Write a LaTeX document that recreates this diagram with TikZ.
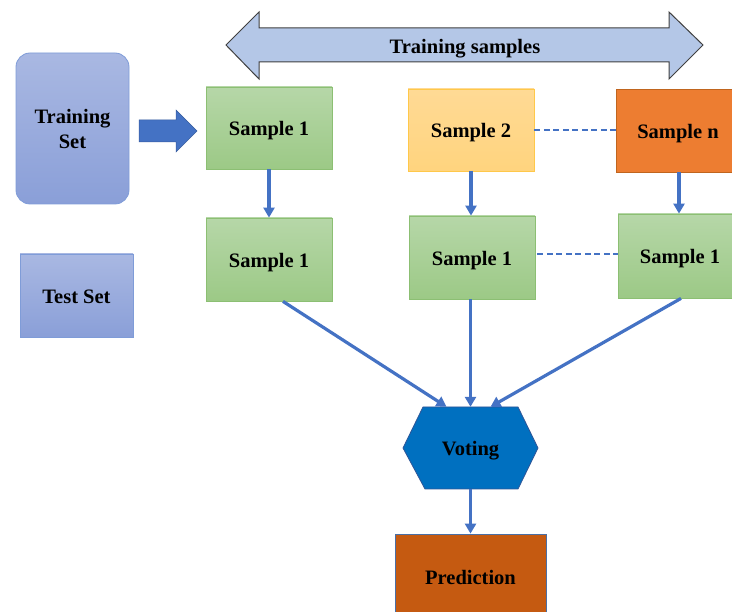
\documentclass[tikz,border=0pt]{standalone}
\usepackage{fontspec}
\setmainfont{Liberation Serif}
\usetikzlibrary{arrows.meta,calc}
\definecolor{bandfill}{HTML}{B4C7E7}
\definecolor{bandline}{HTML}{404040}
\definecolor{bluetop}{HTML}{A9B8E2}
\definecolor{bluebot}{HTML}{8A9FD8}
\definecolor{blueline}{HTML}{7F9CD8}
\definecolor{greentop}{HTML}{B6D7A8}
\definecolor{greenbot}{HTML}{9CC986}
\definecolor{greenline}{HTML}{8CBF73}
\definecolor{yeltop}{HTML}{FFDA95}
\definecolor{yelbot}{HTML}{FFD47E}
\definecolor{yelline}{HTML}{FFC84A}
\definecolor{orfill}{HTML}{ED7D31}
\definecolor{orline}{HTML}{C0651E}
\definecolor{votefill}{HTML}{0070C0}
\definecolor{voteline}{HTML}{2F5597}
\definecolor{predfill}{HTML}{C55A11}
\definecolor{predline}{HTML}{4A6FA5}
\definecolor{conncol}{HTML}{4472C4}
\begin{document}
\begin{tikzpicture}[x=1pt,y=-1pt,
  lblbase/.style={font=\bfseries\fontsize{20.5}{25}\selectfont, text=black, align=center},
  lbl/.style={lblbase, text height=16pt, text depth=0pt},
  sbox/.style={lbl, rectangle, inner sep=0pt, minimum width=126pt, minimum height=82pt, line width=0.8pt},
  greenbox/.style={sbox, draw=greenline, top color=greentop, bottom color=greenbot},
  bluebox/.style={rectangle, inner sep=0pt, draw=blueline, line width=0.8pt, top color=bluetop, bottom color=bluebot},
  conn/.style={draw=conncol, line width=3.2pt, -{Triangle[length=10pt,width=11pt]}},
  dashconn/.style={draw=conncol, line width=2pt, dash pattern=on 6pt off 3.5pt}
]
\useasboundingbox (0,0) rectangle (732,612);

% double arrow band
\path[fill=bandfill, draw=bandline, line width=1pt]
  (226,45) -- (259,12) -- (259,28) -- (669,28) -- (669,12) -- (703,45)
  -- (669,79) -- (669,62) -- (259,62) -- (259,79) -- cycle;
\node[lbl] (band) at (465,46) {Training samples};

% left column
\node[bluebox, lblbase, rounded corners=14pt, minimum width=113pt, minimum height=151pt] (train) at (72.5,128.5) {Training\\Set};
\node[bluebox, lbl, minimum width=113pt, minimum height=83pt] (test) at (76.5,295.5) {Test Set};

% block arrow
\path[fill=conncol, draw=conncol!80!black, line width=0.5pt]
  (139,120) -- (176,120) -- (176,110) -- (197,131) -- (176,152) -- (176,142) -- (139,142) -- cycle;

% first row
\node[greenbox] (s1a) at (269,128) {Sample 1};
\node[sbox, draw=yelline, top color=yeltop, bottom color=yelbot] (s2) at (471,130) {Sample 2};
\node[sbox, draw=orline, fill=orfill, minimum width=124pt, minimum height=83pt] (sn) at (678,130.5) {Sample n};

% second row
\node[greenbox, minimum height=83pt] (s1b) at (269,259.5) {Sample 1};
\node[greenbox, minimum height=83pt] (s1c) at (472,257.5) {Sample 1};
\node[greenbox, minimum width=124pt, minimum height=84pt] (s1d) at (680,256) {Sample 1};

% voting hexagon
\node[minimum width=95pt, minimum height=82pt, inner sep=0pt] (vote) at (470.5,448) {};
\path[fill=votefill, draw=voteline, line width=0.8pt]
  (423,407) -- (518,407) -- (538,448) -- (518,489) -- (425,489) -- (403,448) -- cycle;
\node[lbl] at (vote.center) {Voting};

% prediction
\node[sbox, draw=predline, fill=predfill, minimum width=151pt, minimum height=86pt] (pred) at (470.5,577) {Prediction};

% connectors
\draw[dashconn] (s2.east) -- (sn.west |- s2.east);
\draw[dashconn] ($(s1c.east)+(2,-3)$) -- ($(s1d.west |- s1c.east)+(0,-3)$);
\draw[conn] (s1a.south) -- (s1b.north);
\draw[conn] (s2.south) -- (s2.south |- s1c.north);
\draw[conn] ($(sn.south)+(1,0)$) -- ($(sn.south |- s1d.north)+(1,0)$);
\draw[conn] ($(s1b.south)+(14,0)$) -- ($(vote.north)+(-24,0)$);
\draw[conn] ($(s1c.south)+(-1.5,0)$) -- ($(vote.north)+(0,0)$);
\draw[conn] ($(s1d.south)+(1,0)$) -- ($(vote.north)+(20,0)$);
\draw[conn] (vote.south) -- (pred.north);
\end{tikzpicture}
\end{document}
